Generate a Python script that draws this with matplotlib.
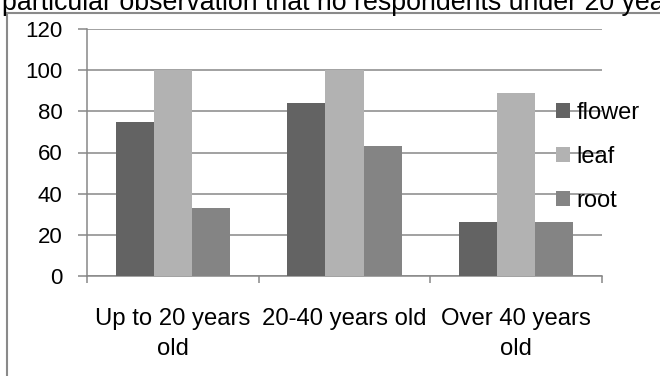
import numpy as np
import matplotlib.pyplot as plt
from matplotlib.patches import Rectangle

# data
categories = ['Up to 20 years\nold', '20-40 years old', 'Over 40 years\nold']
series = ['flower', 'leaf', 'root']
flower = [75, 84, 26]
leaf = [100, 100, 89]
root = [33, 63, 26]
colors = ['#636363', '#b2b2b2', '#848484']
yticks = [0, 20, 40, 60, 80, 100, 120]

grey = '#878787'

fig = plt.figure(figsize=(6.6, 3.76), dpi=100)
ax = fig.add_axes([87/660, 100/376, 515/660, 247/376])

x = np.arange(len(categories))
w = 1/4.5
for i, (vals, name) in enumerate(zip([flower, leaf, root], series)):
    ax.bar(x + (i-1)*w, vals, width=w, color=colors[i], label=name, zorder=3)

ax.set_xlim(-0.5, 2.5)
ax.set_ylim(0, 120)
ax.set_yticks(yticks)
ax.yaxis.grid(True, color=grey, linewidth=1.1, zorder=0)
ax.set_axisbelow(True)

for s in ['top', 'right']:
    ax.spines[s].set_visible(False)
for s in ['left', 'bottom']:
    ax.spines[s].set_color(grey)
    ax.spines[s].set_linewidth(1.1)

ax.tick_params(axis='y', length=6.5, color=grey, width=1.1, pad=11,
               labelsize=16, labelcolor='black')
ax.set_yticklabels([str(v) for v in yticks], family=['Liberation Sans'])

ax.set_xticks(x)
ax.set_xticklabels(categories, family=['Liberation Sans'],
                   fontsize=17.2, linespacing=1.5, va='top')
ax.tick_params(axis='x', which='major', length=0, pad=23)
ax.set_xticks([-0.5, 0.5, 1.5, 2.5], minor=True)
ax.tick_params(axis='x', which='minor', length=5, color=grey, width=1.1)

leg = ax.legend(loc='upper left', bbox_to_anchor=(556/660, 1 - 102/376),
                bbox_transform=fig.transFigure, frameon=False,
                prop={'family': 'Liberation Sans', 'size': 17},
                handlelength=0.58, handleheight=0.58, handletextpad=0.3,
                labelspacing=0.93, borderpad=0, borderaxespad=0)

# outer chart frame (cut by the image edge)
fig.patches.append(Rectangle((7/660, -0.1), 1.2, 1 - 13/376 + 0.1,
                             transform=fig.transFigure, fill=False,
                             edgecolor='#8a8a8a', linewidth=1.5))

# surrounding document text, clipped at the top
fig.text(0.003, 1 - 10.5/376, 'particular observation that no respondents under 20 years',
         family=['Liberation Sans'], fontsize=19.3, va='baseline', ha='left')

fig.savefig('out.png', dpi=100)
